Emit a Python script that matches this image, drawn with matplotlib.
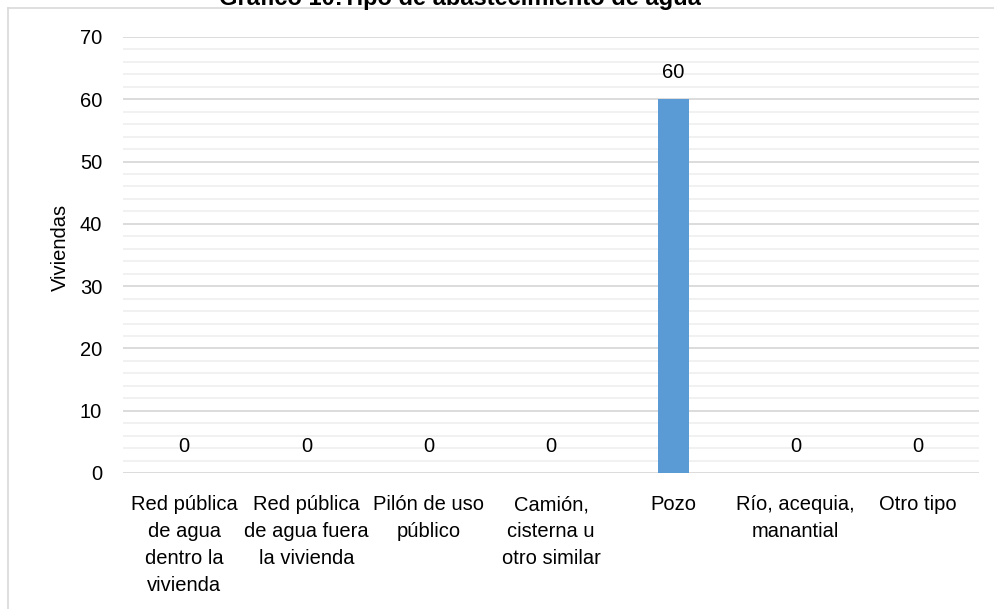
import matplotlib
matplotlib.use("Agg")
import matplotlib.pyplot as plt
from matplotlib.lines import Line2D
import numpy as np

categories = ["Red pública\nde agua\ndentro la\nvivienda",
              "Red pública\nde agua fuera\nla vivienda",
              "Pilón de uso\npúblico",
              "Camión,\ncisterna u\notro similar",
              "Pozo",
              "Río, acequia,\nmanantial",
              "Otro tipo"]
values = [0, 0, 0, 0, 60, 0, 0]
yticks = [0, 10, 20, 30, 40, 50, 60, 70]
title = "Gráfico 10:Tipo de abastecimiento de agua"
ylabel = "Viviendas"

plt.rcParams['font.family'] = ['Liberation Sans', 'DejaVu Sans']

FS = 14.5
W, H = 995, 609
fig = plt.figure(figsize=(W / 100, H / 100), dpi=100)
ax = fig.add_axes([123 / W, 1 - 473 / H, (979 - 123) / W, (473 - 37) / H])

x = np.arange(len(categories))
ax.bar(x, values, width=0.25, color="#5B9BD5", zorder=3)
for xi, v in zip(x, values):
    ax.annotate(str(v), (xi, v), xytext=(0, 19), textcoords="offset points",
                ha="center", va="center", fontsize=FS, color="#000000")

ax.set_xlim(-0.5, len(categories) - 0.5)
ax.set_ylim(0, 70)
ax.set_yticks(yticks)
ax.set_yticks(np.arange(0, 71, 2), minor=True)
ax.grid(axis="y", which="major", color="#d9d9d9", linewidth=1.3, zorder=0)
ax.grid(axis="y", which="minor", color="#f0f0f0", linewidth=1.3, zorder=0)
ax.set_xticks(x)
ax.set_xticklabels(categories, fontsize=FS, linespacing=1.52, va="top")
ax.tick_params(axis="x", length=0, pad=16)
ax.tick_params(axis="y", which="both", length=0, pad=15, labelsize=FS)
for s in ax.spines.values():
    s.set_visible(False)
ax.set_ylabel(ylabel, fontsize=FS)
ax.yaxis.set_label_coords((70 - 123) / (979 - 123), (473 - 247) / 436)

fig.text(460 / W, 1 - 5 / H, title, ha="center", va="baseline",
         fontsize=17, fontweight="bold")

fig.add_artist(Line2D([8 / W, 1], [1 - 8 / H, 1 - 8 / H], color="#d9d9d9", lw=1.2))
fig.add_artist(Line2D([8 / W, 8 / W], [0, 1 - 8 / H], color="#d9d9d9", lw=1.2))

fig.savefig("out.png", dpi=100)
